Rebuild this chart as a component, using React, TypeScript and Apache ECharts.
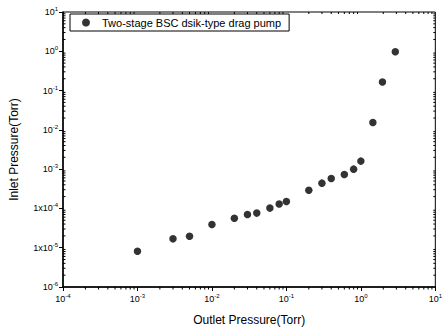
import React, { useEffect, useRef } from "react";
import * as echarts from "echarts";

const seriesName = "Two-stage BSC dsik-type drag pump";
const outletPressure = [0.001, 0.003, 0.005, 0.01, 0.02, 0.03, 0.04, 0.06, 0.08, 0.1, 0.2, 0.3, 0.4, 0.6, 0.8, 1.0, 1.45, 1.95, 2.9];
const inletPressure = [8.1e-6, 1.68e-5, 1.95e-5, 3.9e-5, 5.6e-5, 7.0e-5, 7.6e-5, 1.02e-4, 1.3e-4, 1.5e-4, 2.9e-4, 4.4e-4, 5.75e-4, 7.3e-4, 1.0e-3, 1.6e-3, 0.0154, 0.165, 0.97];
const xMin = 1e-4;
const xMax = 10;
const yMin = 1e-6;
const yMax = 10;
const mantissas = [2, 3, 4, 5, 6, 7, 8, 9];
const xDecades = [1e-4, 1e-3, 1e-2, 1e-1, 1];
const yDecades = [1e-6, 1e-5, 1e-4, 1e-3, 1e-2, 1e-1, 1];
const yLongLabelExps = [-4, -5];

const xMinorTicks: number[] = [];
xDecades.forEach((d) => mantissas.forEach((m) => xMinorTicks.push(d * m)));
const yMinorTicks: number[] = [];
yDecades.forEach((d) => mantissas.forEach((m) => yMinorTicks.push(d * m)));

const font = "'Liberation Sans', Arial, sans-serif";

function expOf(v: number) {
  return Math.round(Math.log10(v));
}

export default function App() {
  const ref = useRef<HTMLDivElement>(null);
  useEffect(() => {
    if (!ref.current) return;
    const chart = echarts.init(ref.current, null, { renderer: "svg" });
    const rich = {
      b: { fontSize: 9, fontFamily: font, color: "#000" },
      sup: { fontSize: 6, fontFamily: font, color: "#000", verticalAlign: "top", padding: [0, 0, 6, 0] },
    };
    chart.setOption({
      animation: false,
      backgroundColor: "#fff",
      grid: { left: 62, right: 4, top: 12, bottom: 43, show: true, borderColor: "#000", borderWidth: 1 },
      legend: {
        show: true,
        left: 70,
        top: 14,
        itemWidth: 8,
        itemHeight: 8,
        itemGap: 4,
        padding: [3, 8, 3, 12],
        borderColor: "#000",
        borderWidth: 1,
        textStyle: { fontFamily: font, fontSize: 11, color: "#000", padding: [0, 0, 0, 7] },
        data: [{ name: seriesName, icon: "circle" }],
      },
      xAxis: {
        type: "log",
        min: xMin,
        max: xMax,
        logBase: 10,
        name: "Outlet Pressure(Torr)",
        nameLocation: "middle",
        nameGap: 27,
        nameTextStyle: { fontFamily: font, fontSize: 12, color: "#000" },
        axisLine: { lineStyle: { color: "#000", width: 1.5 } },
        axisTick: { show: true, length: 4, inside: false, lineStyle: { color: "#000" } },
        splitLine: { show: false },
        axisLabel: {
          margin: 6,
          showMaxLabel: true,
          formatter: (v: number) => `{b|10}{sup|${expOf(v)}}`,
          rich,
        },
      },
      yAxis: {
        type: "log",
        min: yMin,
        max: yMax,
        logBase: 10,
        name: "Inlet Pressure(Torr)",
        nameLocation: "middle",
        nameGap: 43,
        nameTextStyle: { fontFamily: font, fontSize: 12, color: "#000" },
        axisLine: { lineStyle: { color: "#000", width: 1.5 } },
        axisTick: { show: true, length: 4, inside: false, lineStyle: { color: "#000" } },
        splitLine: { show: false },
        axisLabel: {
          margin: 5,
          formatter: (v: number) => {
            const e = expOf(v);
            return yLongLabelExps.includes(e) ? `{b|1x10}{sup|${e}}` : `{b|10}{sup|${e}}`;
          },
          rich,
        },
      },
      series: [
        {
          name: seriesName,
          type: "scatter",
          symbol: "circle",
          symbolSize: 7.5,
          itemStyle: { color: "#000" },
          data: outletPressure.map((x, i) => [x, inletPressure[i]]),
        },
        {
          type: "custom",
          silent: true,
          clip: false,
          data: xMinorTicks.map((v) => [v, 1]),
          renderItem: (params: any, api: any) => {
            const cs = params.coordSys;
            const p = api.coord([api.value(0), api.value(1)]);
            const bottom = cs.y + cs.height;
            return {
              type: "group",
              children: [
                { type: "line", shape: { x1: p[0], y1: bottom, x2: p[0], y2: bottom + 2.5 }, style: { stroke: "#000", lineWidth: 1 } },
                { type: "line", shape: { x1: p[0], y1: cs.y, x2: p[0], y2: cs.y + 2 }, style: { stroke: "#000", lineWidth: 1 } },
              ],
            };
          },
        },
        {
          type: "custom",
          silent: true,
          clip: false,
          data: yMinorTicks.map((v) => [1, v]),
          renderItem: (params: any, api: any) => {
            const cs = params.coordSys;
            const p = api.coord([api.value(0), api.value(1)]);
            const right = cs.x + cs.width;
            return {
              type: "group",
              children: [
                { type: "line", shape: { x1: cs.x, y1: p[1], x2: cs.x + 2.5, y2: p[1] }, style: { stroke: "#000", lineWidth: 1 } },
                { type: "line", shape: { x1: right, y1: p[1], x2: right - 2, y2: p[1] }, style: { stroke: "#000", lineWidth: 1 } },
              ],
            };
          },
        },
      ],
    });
    return () => chart.dispose();
  }, []);
  return <div ref={ref} style={{ width: 445, height: 331, position: "absolute", left: 0, top: 0 }} />;
}
